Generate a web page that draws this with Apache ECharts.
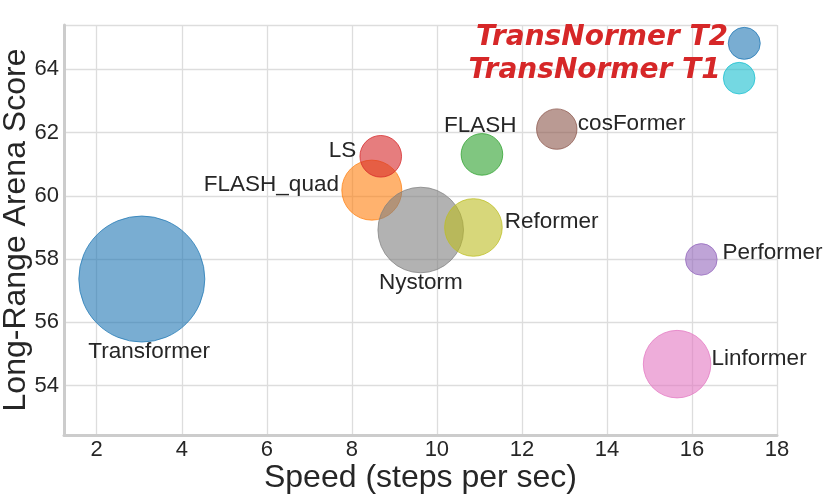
<!DOCTYPE html>
<html>
<head>
<meta charset="utf-8">
<script src="https://cdn.jsdelivr.net/npm/echarts@6/dist/echarts.min.js"></script>
<style>
html,body{margin:0;padding:0;background:#fff;}
#chart{width:830px;height:495px;}
</style>
</head>
<body>
<div id="chart"></div>
<script>
// ---- data ----
const models = ['Transformer','FLASH_quad','FLASH','LS','Performer','cosFormer','Linformer','Nystorm','Reformer','TransNormer T1','TransNormer T2'];
const speed  = [3.06, 8.47, 11.06, 8.68, 16.22, 12.82, 15.65, 9.62, 10.86, 17.11, 17.23];
const score  = [57.37, 60.18, 61.31, 61.25, 57.99, 62.11, 54.68, 58.92, 59.00, 63.72, 64.82];
const memory = [39.7, 9.0, 4.33, 4.33, 2.5, 4.08, 11.4, 18.3, 8.29, 2.5, 2.56];
const xTicks = [2, 4, 6, 8, 10, 12, 14, 16, 18];
const yTicks = [54, 56, 58, 60, 62, 64];

// ---- style ----
const palette = ['#1f77b4','#ff7f0e','#2ca02c','#d62728','#9467bd','#8c564b','#e377c2','#7f7f7f','#bcbd22','#17becf','#1f77b4'];
const labelPlacement = {
  'Transformer':    {align:'center', offset:[7.8, 73]},
  'FLASH_quad':     {align:'right',  offset:[-32.4, -5.3]},
  'FLASH':          {align:'center', offset:[-1.2, -28.5]},
  'LS':             {align:'right',  offset:[-24, -5.3]},
  'Performer':      {align:'left',   offset:[21.6, -6.3]},
  'cosFormer':      {align:'left',   offset:[21.6, -4.7]},
  'Linformer':      {align:'left',   offset:[35, -5.3]},
  'Nystorm':        {align:'center', offset:[0.6, 53]},
  'Reformer':       {align:'left',   offset:[31.7, -5.3]},
  'TransNormer T1': {align:'right',  offset:[-18, -6.7], special:true},
  'TransNormer T2': {align:'right',  offset:[-15.7, -5.2], special:true}
};
function hexA(hex, a){
  const n = parseInt(hex.slice(1),16);
  return 'rgba(' + ((n>>16)&255) + ',' + ((n>>8)&255) + ',' + (n&255) + ',' + a + ')';
}
const textColor = '#262626';
const fontMain = '"Liberation Sans", Arial, Helvetica, sans-serif';
const bubbleSize = v => 20 * Math.sqrt(v[2]);

const seriesData = models.map((m, i) => {
  const lp = labelPlacement[m];
  const value = [speed[i], score[i], memory[i]];
  const half = bubbleSize(value) / 2;
  return {
    name: m,
    value: value,
    itemStyle: {color: hexA(palette[i], 0.6), borderColor: hexA(palette[i], 0.75), borderWidth: 1, opacity: 1},
    label: {
      show: true,
      position: [half + lp.offset[0], half + lp.offset[1]],
      align: lp.align,
      verticalAlign: 'middle',
      formatter: m,
      color: lp.special ? '#d62728' : textColor,
      fontFamily: lp.special ? '"DejaVu Sans", sans-serif' : fontMain,
      fontWeight: lp.special ? 'bold' : 'normal',
      fontStyle: lp.special ? 'italic' : 'normal',
      fontSize: lp.special ? 28 : 22.5
    }
  };
});

const chart = echarts.init(document.getElementById('chart'), null, {renderer:'canvas'});
chart.setOption({
  animation: false,
  backgroundColor: '#fff',
  grid: {left: 64, right: 53, top: 25, bottom: 60, containLabel: false, outerBoundsMode: 'none'},
  xAxis: {
    type: 'value',
    min: 1.23, max: 18,
    minInterval: 2, maxInterval: 2,
    name: 'Speed (steps per sec)',
    nameLocation: 'middle',
    nameGap: 27,
    nameMoveOverlap: false,
    nameTextStyle: {fontSize: 32, color: textColor, fontFamily: fontMain},
    axisLine: {show: true, lineStyle: {color: '#cccccc', width: 3}},
    axisTick: {show: false},
    axisLabel: {
      fontSize: 22, color: textColor, fontFamily: fontMain, margin: 4,
      formatter: v => (xTicks.indexOf(v) >= 0 ? String(v) : '')
    },
    splitLine: {show: true, lineStyle: {color: '#dddddd', width: 1.3}}
  },
  yAxis: {
    type: 'value',
    min: 52.44, max: 65.4,
    minInterval: 2, maxInterval: 2,
    name: 'Long-Range Arena Score',
    nameLocation: 'middle',
    nameGap: 32,
    nameMoveOverlap: false,
    nameTextStyle: {fontSize: 32, color: textColor, fontFamily: fontMain},
    axisLine: {show: true, lineStyle: {color: '#cccccc', width: 3}},
    axisTick: {show: false},
    axisLabel: {
      fontSize: 22, color: textColor, fontFamily: fontMain, margin: 5,
      formatter: v => (yTicks.indexOf(v) >= 0 ? String(v) : '')
    },
    splitLine: {show: true, lineStyle: {color: '#dddddd', width: 1.3}}
  },
  series: [{
    type: 'scatter',
    data: seriesData,
    symbol: 'circle',
    symbolSize: bubbleSize,
    itemStyle: {opacity: 1},
    emphasis: {disabled: true},
    labelLayout: {hideOverlap: false}
  }]
});
</script>
</body>
</html>
